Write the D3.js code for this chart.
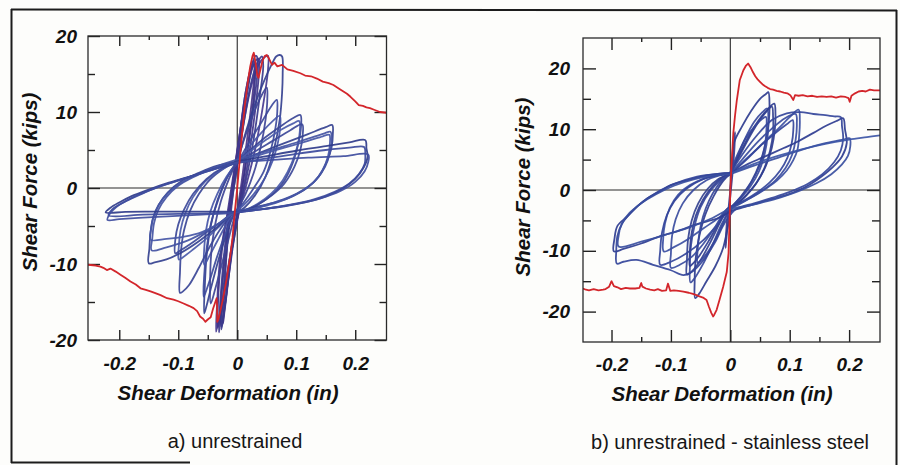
<!DOCTYPE html>
<html><head><meta charset="utf-8">
<script src="https://cdn.jsdelivr.net/npm/d3@7"></script>
<style>
html,body{margin:0;padding:0;background:#fdfdfb;}
svg{display:block;}
</style></head><body>
<svg id="chart" width="900" height="465"></svg>
<script>
// ---------------- DATA ----------------
const xTickMajor = [-0.2, -0.1, 0, 0.1, 0.2];
const xTickLabels = ["-0.2", "-0.1", "0", "0.1", "0.2"];
const xTickMinor = [-0.15, -0.05, 0.05, 0.15];
const yTickMajor = [-20, -10, 0, 10, 20];
const yTickLabels = ["-20", "-10", "0", "10", "20"];
const yTickMinorA = [-15, -5, 5, 15];
const yTickMinorB = [-15, -5, 5, 15];

const xTitle = "Shear Deformation (in)";
const yTitle = "Shear Force (kips)";
const captionA = "a) unrestrained";
const captionB = "b) unrestrained - stainless steel";

// panel a) monotonic (red)
const redA_pos = [[0,0],[0.004,3.5],[0.008,7],[0.013,11],[0.018,14],[0.022,16],[0.026,17.4],[0.028,17.8],[0.031,16.5],[0.034,14.8],[0.036,14.5],[0.039,15.5],[0.043,16.8],[0.047,17.4],[0.05,17.5],[0.054,17.0],[0.059,16.2],[0.063,16.5],[0.068,16.0],[0.076,16.2],[0.085,15.6],[0.095,15.4],[0.107,15.1],[0.115,14.8],[0.125,14.7],[0.135,14.4],[0.145,14.0],[0.155,13.8],[0.163,13.55],[0.172,13.1],[0.18,12.7],[0.186,12.4],[0.192,12.0],[0.2,11.4],[0.206,10.9],[0.213,10.8],[0.219,10.6],[0.225,10.5],[0.232,10.3],[0.242,10.0],[0.253,9.9]];
const redA_neg = [[0,0],[-0.004,-3],[-0.008,-6.5],[-0.012,-9],[-0.018,-12],[-0.024,-14.5],[-0.029,-16.3],[-0.032,-17.3],[-0.034,-17.6],[-0.034,-15.5],[-0.035,-14.5],[-0.038,-15.2],[-0.041,-15.9],[-0.045,-17.0],[-0.05,-17.3],[-0.054,-17.6],[-0.058,-17.2],[-0.063,-16.9],[-0.068,-16.2],[-0.074,-15.8],[-0.082,-15.5],[-0.091,-15.2],[-0.1,-14.9],[-0.108,-14.7],[-0.119,-14.5],[-0.13,-14.1],[-0.14,-13.8],[-0.147,-13.6],[-0.155,-13.4],[-0.164,-13.2],[-0.172,-12.7],[-0.181,-12.3],[-0.19,-11.8],[-0.198,-11.4],[-0.206,-11.0],[-0.215,-10.6],[-0.221,-10.8],[-0.227,-10.5],[-0.232,-10.35],[-0.24,-10.2],[-0.253,-10.1]];

// panel a) cyclic loops (blue)
const loopA1 = [[-0.012,-2],[-0.004,2.5],[0.006,8],[0.014,12.5],[0.022,15.5],[0.028,16.8],[0.029,15],[0.024,11],[0.016,6],[0.006,0],[-0.004,-5],[-0.012,-10],[-0.018,-14],[-0.022,-16.5],[-0.024,-17.8],[-0.023,-15.5],[-0.02,-11],[-0.016,-6],[-0.012,-2]];
const loopA2 = [[-0.014,-3],[-0.006,1.5],[0.004,7],[0.014,12.5],[0.024,16],[0.031,17.4],[0.034,17.2],[0.034,15],[0.028,11],[0.018,5],[0.006,-1],[-0.006,-6],[-0.016,-11],[-0.024,-15],[-0.029,-17.6],[-0.031,-19],[-0.03,-16.5],[-0.026,-12],[-0.02,-7],[-0.014,-3]];
const loopA3 = [[-0.01,-1.5],[0,3.5],[0.012,9],[0.024,13.5],[0.036,16.2],[0.046,17.2],[0.052,17.4],[0.052,15.5],[0.044,11],[0.03,5],[0.014,0],[0,-4],[-0.01,-8],[-0.02,-12.5],[-0.028,-16],[-0.034,-18.2],[-0.036,-18.9],[-0.034,-15],[-0.03,-10],[-0.022,-5.5],[-0.01,-1.5]];
const loopA4 = [[-0.008,-1],[0.002,4],[0.01,9],[0.018,13],[0.025,15.8],[0.03,16.3],[0.029,13],[0.022,8],[0.012,2],[0.002,-3],[-0.008,-8],[-0.016,-12.5],[-0.022,-16],[-0.027,-18.3],[-0.028,-16],[-0.022,-10],[-0.015,-5],[-0.008,-1]];
const loopA5 = [[0.001,3.5],[0.015,7.5],[0.03,11],[0.045,14],[0.058,16.2],[0.066,17.3],[0.072,17.5],[0.076,17.3],[0.077,15],[0.076,12.5],[0.072,9],[0.062,5],[0.048,1.5],[0.03,-1],[0.012,-2.6],[-0.004,-3.4],[-0.018,-6],[-0.032,-9.5],[-0.044,-13],[-0.052,-15.5],[-0.056,-16.5],[-0.055,-13],[-0.052,-9],[-0.045,-5],[-0.033,-1.5],[-0.018,1.3],[-0.005,3],[0.001,3.5]];
const loopA6 = [[0.001,3.4],[0.02,6],[0.04,8.5],[0.058,10.8],[0.067,11.6],[0.068,10.4],[0.065,8],[0.057,5],[0.045,2.2],[0.028,0],[0.01,-2],[-0.005,-3.3],[-0.02,-6],[-0.034,-9],[-0.046,-12],[-0.054,-13.8],[-0.057,-14.3],[-0.056,-11.5],[-0.052,-8],[-0.044,-4.5],[-0.032,-1.5],[-0.016,1.5],[0.001,3.4]];
const loopA7 = [[0.001,3.4],[0.02,5.4],[0.04,7.2],[0.06,8.8],[0.072,9.5],[0.073,8.2],[0.069,6],[0.06,3.6],[0.046,1.2],[0.028,-0.8],[0.01,-2.3],[-0.006,-3.2],[-0.02,-5],[-0.034,-7],[-0.047,-8.9],[-0.056,-10.1],[-0.056,-8],[-0.053,-5.6],[-0.046,-3.2],[-0.034,-0.8],[-0.018,1.5],[0.001,3.4]];
const loopA8 = [[0.001,3.6],[0.025,5.2],[0.05,6.8],[0.075,8.2],[0.095,9.2],[0.107,9.6],[0.108,8],[0.104,6],[0.095,3.5],[0.08,1],[0.06,-0.8],[0.035,-2.2],[0.012,-3],[-0.006,-3.3],[-0.025,-5],[-0.045,-7.5],[-0.065,-10.5],[-0.082,-12.8],[-0.092,-13.6],[-0.097,-13.8],[-0.097,-11],[-0.095,-8],[-0.09,-5.5],[-0.08,-3],[-0.065,-0.8],[-0.045,1.2],[-0.022,2.6],[0.001,3.6]];
const loopA9 = [[0.001,3.5],[0.025,5],[0.05,6.4],[0.075,7.7],[0.095,8.5],[0.105,8.8],[0.106,7.4],[0.102,5.5],[0.092,3.2],[0.077,1],[0.058,-0.7],[0.034,-2.1],[0.01,-3],[-0.007,-3.3],[-0.027,-4.8],[-0.05,-6.5],[-0.075,-8.1],[-0.092,-9.1],[-0.099,-9.4],[-0.099,-7.6],[-0.096,-5.5],[-0.088,-3.3],[-0.075,-1.2],[-0.055,0.8],[-0.03,2.3],[0.001,3.5]];
const loopA10 = [[0.001,3.3],[0.03,4.8],[0.06,6.2],[0.09,7.6],[0.11,8.4],[0.111,7],[0.107,5],[0.097,2.8],[0.08,0.6],[0.058,-1],[0.032,-2.3],[0.01,-3],[-0.008,-3.4],[-0.03,-4.6],[-0.055,-6],[-0.08,-7.4],[-0.098,-8.3],[-0.105,-8.6],[-0.105,-6.8],[-0.1,-4.8],[-0.09,-2.8],[-0.075,-0.8],[-0.052,1.2],[-0.026,2.6],[0.001,3.3]];
const loopA11 = [[0.001,3.5],[0.04,4.7],[0.08,5.9],[0.12,7.1],[0.15,8],[0.161,8.3],[0.162,7],[0.16,5.4],[0.152,3.5],[0.138,1.5],[0.118,0],[0.093,-1.1],[0.065,-1.9],[0.037,-2.4],[0.01,-3],[-0.008,-3.4],[-0.035,-5.2],[-0.065,-7],[-0.095,-8.5],[-0.12,-9.4],[-0.14,-9.8],[-0.15,-9.9],[-0.149,-8],[-0.147,-5.8],[-0.143,-4],[-0.133,-2.2],[-0.118,-0.6],[-0.095,0.9],[-0.065,2],[-0.035,2.9],[0.001,3.5]];
const loopA12 = [[0.001,3.4],[0.04,4.4],[0.08,5.3],[0.12,6.2],[0.145,6.8],[0.156,7.0],[0.157,5.8],[0.154,4.2],[0.145,2.4],[0.13,0.8],[0.11,-0.4],[0.085,-1.4],[0.055,-2.2],[0.025,-2.8],[-0.005,-3.3],[-0.03,-4.6],[-0.06,-5.8],[-0.09,-6.4],[-0.12,-6.7],[-0.147,-6.8],[-0.146,-5.4],[-0.142,-3.8],[-0.133,-2.2],[-0.118,-0.7],[-0.095,0.7],[-0.065,1.9],[-0.032,2.8],[0.001,3.4]];
const loopA13 = [[0.001,3.5],[0.05,4.2],[0.1,4.9],[0.15,5.5],[0.19,6],[0.217,6.3],[0.219,5.2],[0.221,4.1],[0.215,2.8],[0.2,1.2],[0.18,0],[0.15,-1.1],[0.115,-1.9],[0.08,-2.4],[0.04,-2.8],[0.005,-3.1],[-0.04,-3.1],[-0.09,-3.1],[-0.14,-3.1],[-0.19,-3.15],[-0.223,-3.2],[-0.215,-2.6],[-0.2,-1.9],[-0.18,-1.1],[-0.15,-0.2],[-0.116,0.7],[-0.085,1.4],[-0.055,2.1],[-0.025,2.8],[0.001,3.5]];
const loopA14 = [[0.001,3.4],[0.06,3.7],[0.12,4.0],[0.18,4.2],[0.222,4.4],[0.222,3.4],[0.216,2.2],[0.2,0.8],[0.175,-0.4],[0.14,-1.4],[0.1,-2.1],[0.06,-2.6],[0.02,-3],[-0.01,-3.3],[-0.06,-3.5],[-0.11,-3.7],[-0.16,-3.9],[-0.2,-4.1],[-0.22,-4.2],[-0.216,-3.4],[-0.205,-2.5],[-0.185,-1.6],[-0.16,-0.7],[-0.128,0.3],[-0.095,1.1],[-0.062,1.9],[-0.03,2.7],[0.001,3.4]];
const loopA15 = [[-0.016,-3],[-0.008,1],[0.002,6],[0.012,11],[0.022,14.8],[0.03,16.6],[0.036,17],[0.037,15.5],[0.033,12],[0.025,7],[0.014,1.5],[0.002,-3.5],[-0.01,-8.5],[-0.02,-13],[-0.028,-16.5],[-0.033,-18.4],[-0.033,-16],[-0.03,-11.5],[-0.024,-7],[-0.016,-3]];
const loopA16 = [[-0.006,0],[0.004,5],[0.014,10],[0.024,14],[0.034,16.5],[0.042,17.3],[0.044,16],[0.038,12],[0.028,6.5],[0.016,1.5],[0.004,-2.5],[-0.006,-6.5],[-0.014,-11],[-0.02,-15],[-0.025,-17.8],[-0.027,-18.6],[-0.024,-14],[-0.018,-8.5],[-0.012,-4],[-0.006,0]];
const loopA17 = [[0.0,3.6],[0.012,6.5],[0.026,9.5],[0.04,12],[0.05,13.2],[0.051,11.8],[0.048,9],[0.04,5.5],[0.028,2],[0.014,-0.8],[-0.002,-3.2],[-0.014,-6.5],[-0.026,-10],[-0.037,-13.2],[-0.045,-15.2],[-0.046,-12.5],[-0.044,-8.5],[-0.038,-5],[-0.028,-1.8],[-0.014,1.2],[0.0,3.6]];
const loopA18 = [[-0.002,3.7],[0.04,4.6],[0.08,5.5],[0.12,6.5],[0.148,7.2],[0.158,7.4],[0.16,6.2],[0.157,4.6],[0.149,2.8],[0.134,1.1],[0.113,-0.2],[0.088,-1.2],[0.058,-2],[0.028,-2.7],[-0.004,-3.1],[-0.03,-4.6],[-0.06,-6],[-0.09,-7.1],[-0.12,-7.8],[-0.145,-8.2],[-0.144,-6.6],[-0.141,-4.6],[-0.134,-2.9],[-0.12,-1.2],[-0.1,0.3],[-0.07,1.6],[-0.036,2.8],[-0.002,3.7]];
const loopA19 = [[0.002,3.3],[0.05,3.9],[0.1,4.5],[0.15,5.0],[0.19,5.3],[0.215,5.4],[0.217,4.4],[0.216,3.2],[0.206,1.8],[0.19,0.6],[0.165,-0.5],[0.13,-1.5],[0.09,-2.2],[0.05,-2.7],[0.01,-3.1],[-0.04,-3.3],[-0.1,-3.4],[-0.16,-3.5],[-0.218,-3.6],[-0.212,-2.8],[-0.198,-2.1],[-0.176,-1.2],[-0.148,-0.3],[-0.115,0.6],[-0.08,1.5],[-0.045,2.4],[-0.015,3.0],[0.002,3.3]];
const loopsA = [loopA1, loopA2, loopA3, loopA4, loopA15, loopA16, loopA5, loopA6, loopA7, loopA17, loopA8, loopA9, loopA10, loopA11, loopA18, loopA12, loopA13, loopA19, loopA14];

// panel b) monotonic (red)
const redB_pos = [[0,0],[0.002,4],[0.005,9.3],[0.008,12.3],[0.011,14.8],[0.016,18.1],[0.022,19.7],[0.026,20.4],[0.03,20.8],[0.034,20.2],[0.038,19.4],[0.042,18.7],[0.046,18.2],[0.05,17.8],[0.054,17.4],[0.058,17.1],[0.063,16.8],[0.067,16.6],[0.072,16.5],[0.078,16.3],[0.084,16.2],[0.09,16.0],[0.096,15.9],[0.101,15.6],[0.106,14.8],[0.109,15.6],[0.115,15.5],[0.122,15.6],[0.13,15.4],[0.138,15.5],[0.146,15.3],[0.154,15.4],[0.162,15.3],[0.17,15.4],[0.178,15.2],[0.186,15.4],[0.194,15.3],[0.199,15.1],[0.201,14.5],[0.204,15.5],[0.21,15.9],[0.216,16.2],[0.222,16.3],[0.228,16.2],[0.235,16.5],[0.242,16.4],[0.252,16.4]];
const redB_neg = [[0,0],[-0.001,-4],[-0.003,-10.4],[-0.006,-13.5],[-0.012,-15.9],[-0.018,-18],[-0.023,-19.7],[-0.027,-20.5],[-0.029,-20.8],[-0.032,-20.2],[-0.036,-19.2],[-0.04,-18.1],[-0.046,-17.7],[-0.052,-17.5],[-0.057,-17.3],[-0.063,-17.1],[-0.07,-16.9],[-0.079,-16.7],[-0.087,-16.6],[-0.095,-16.5],[-0.101,-16.6],[-0.105,-15.4],[-0.108,-16.5],[-0.115,-16.6],[-0.122,-16.3],[-0.128,-16.5],[-0.135,-16.4],[-0.142,-16.2],[-0.148,-15.9],[-0.15,-15.3],[-0.153,-16.1],[-0.16,-16.2],[-0.169,-16.2],[-0.176,-16.1],[-0.184,-16.3],[-0.19,-16.0],[-0.196,-15.8],[-0.2,-15.0],[-0.204,-15.9],[-0.21,-16.3],[-0.214,-16.4],[-0.222,-16.5],[-0.23,-16.3],[-0.238,-16.5],[-0.243,-16.4],[-0.248,-16.2]];

// panel b) cyclic loops (blue)
const loopB1 = [[-0.003,-3],[0.001,1],[0.004,5],[0.007,8.5],[0.008,9.5],[0.007,7],[0.004,3],[0,-1],[-0.004,-5],[-0.007,-8.5],[-0.008,-9.5],[-0.007,-7],[-0.005,-4.5],[-0.003,-3]];
const loopB2 = [[0,0],[0.003,4],[0.006,7.7],[0.02,10.5],[0.035,13],[0.05,15],[0.06,15.8],[0.064,16.1],[0.066,14],[0.065,11.5],[0.06,8],[0.05,4.5],[0.036,1.5],[0.02,-0.8],[0.004,-2.8],[-0.004,-6],[-0.012,-9.5],[-0.025,-12.5],[-0.04,-15],[-0.052,-17],[-0.059,-17.8],[-0.06,-15],[-0.058,-11],[-0.052,-7.5],[-0.042,-4],[-0.028,-1],[-0.012,1.5],[0,2.7]];
const loopB3 = [[0,2.7],[0.015,5.5],[0.03,8.3],[0.045,10.8],[0.06,12.8],[0.07,13.7],[0.072,12],[0.072,9.5],[0.067,6.5],[0.057,3.5],[0.043,1],[0.026,-1],[0.01,-2.4],[-0.004,-3],[-0.018,-5.5],[-0.033,-8.5],[-0.05,-11.5],[-0.064,-13.3],[-0.073,-13.9],[-0.073,-11.5],[-0.071,-8],[-0.065,-5],[-0.054,-2.2],[-0.038,0.2],[-0.02,1.8],[0,2.7]];
const loopB4 = [[0,2.5],[0.012,5.5],[0.025,8.5],[0.04,11.2],[0.054,12.8],[0.062,13.4],[0.064,11.5],[0.063,9],[0.058,6],[0.048,3],[0.034,0.6],[0.018,-1.3],[0.002,-2.8],[-0.014,-5.5],[-0.03,-9],[-0.046,-12.2],[-0.06,-14.5],[-0.067,-15.2],[-0.068,-12.5],[-0.066,-9],[-0.06,-5.8],[-0.05,-2.8],[-0.034,-0.2],[-0.016,1.6],[0,2.5]];
const loopB5 = [[0,2.8],[0.016,6],[0.032,9],[0.048,11.5],[0.064,13.4],[0.074,14.2],[0.076,12.5],[0.075,10],[0.07,7],[0.06,4],[0.045,1.3],[0.028,-0.7],[0.01,-2.3],[-0.006,-3.2],[-0.02,-5.5],[-0.036,-8.3],[-0.052,-10.8],[-0.063,-12.1],[-0.068,-12.5],[-0.068,-10],[-0.065,-7],[-0.058,-4.2],[-0.046,-1.6],[-0.03,0.6],[-0.014,2],[0,2.8]];
const loopB6 = [[0,2.7],[0.02,4.5],[0.04,6.3],[0.06,8.2],[0.08,10],[0.1,12],[0.115,13.2],[0.117,11.5],[0.116,9],[0.113,6.6],[0.106,4.9],[0.095,3.2],[0.078,1.5],[0.061,0.3],[0.04,-1],[0.02,-2],[0,-3],[-0.02,-4.6],[-0.045,-6.3],[-0.07,-8],[-0.095,-9.4],[-0.112,-10.1],[-0.113,-8],[-0.11,-5.5],[-0.102,-3],[-0.088,-0.8],[-0.068,0.8],[-0.04,2],[-0.018,2.5],[0,2.7]];
const loopB7 = [[0,2.6],[0.025,4.8],[0.05,7.2],[0.075,9.3],[0.095,10.8],[0.105,11.5],[0.106,9.8],[0.103,7.5],[0.096,5.3],[0.084,3.2],[0.066,1.2],[0.045,-0.4],[0.022,-1.8],[0,-3],[-0.02,-5.5],[-0.045,-8.2],[-0.075,-10.5],[-0.1,-11.8],[-0.118,-12.3],[-0.118,-10],[-0.115,-7],[-0.107,-4.2],[-0.094,-1.8],[-0.074,0.2],[-0.048,1.7],[-0.022,2.4],[0,2.6]];
const loopB8 = [[0,2.7],[0.03,4.3],[0.056,5.4],[0.09,6.9],[0.112,7.9],[0.14,9.4],[0.162,10.6],[0.18,11.4],[0.19,11.8],[0.193,10],[0.196,7.7],[0.188,5.5],[0.173,3.8],[0.145,1.6],[0.123,0.3],[0.095,-0.8],[0.07,-1.5],[0.045,-2.2],[0.02,-2.9],[0.003,-3.4],[-0.02,-4.6],[-0.056,-5.6],[-0.09,-6.8],[-0.118,-7.6],[-0.15,-8.8],[-0.18,-9.7],[-0.196,-10.1],[-0.195,-8],[-0.19,-5.9],[-0.174,-4.4],[-0.157,-2.7],[-0.14,-1.4],[-0.118,-0.2],[-0.1,0.8],[-0.073,1.6],[-0.045,2.3],[-0.017,2.7],[0,2.8]];
const loopB9 = [[0,2.8],[0.02,5.8],[0.045,9],[0.07,11.5],[0.095,12.6],[0.118,12.8],[0.14,12.5],[0.16,12.3],[0.175,12.1],[0.186,12.0],[0.188,10.5],[0.19,8.5],[0.186,6.5],[0.175,4.6],[0.155,2.6],[0.13,1.0],[0.1,-0.3],[0.07,-1.3],[0.04,-2.2],[0.01,-3.1],[-0.01,-5.5],[-0.025,-8.5],[-0.045,-11.5],[-0.065,-13.5],[-0.079,-14.0],[-0.1,-13.2],[-0.13,-12.3],[-0.158,-11.5],[-0.18,-11.8],[-0.191,-12.1],[-0.192,-10],[-0.19,-7.5],[-0.182,-5.5],[-0.168,-3.8],[-0.14,-1.4],[-0.1,0.8],[-0.056,2.2],[-0.017,2.7],[0,2.8]];
const loopB10 = [[0,2.6],[0.04,4],[0.08,5.3],[0.12,6.6],[0.16,7.7],[0.19,8.3],[0.201,8.5],[0.202,7.2],[0.198,5.6],[0.188,4.2],[0.17,2.6],[0.145,1.1],[0.115,-0.2],[0.085,-1.2],[0.055,-2],[0.025,-2.7],[0,-3.1],[-0.03,-4.6],[-0.07,-6.2],[-0.11,-7.4],[-0.15,-8.5],[-0.188,-9.3],[-0.188,-7.5],[-0.183,-5.6],[-0.17,-3.8],[-0.15,-2.2],[-0.125,-0.7],[-0.095,0.7],[-0.06,1.8],[-0.025,2.4],[0,2.6]];
const loopB11 = [[0,2.7],[0.04,4.3],[0.08,5.6],[0.12,6.7],[0.16,7.6],[0.2,8.3],[0.23,8.7],[0.252,9.0]];
const loopB12 = [[0,2.7],[0.02,5],[0.045,7.8],[0.07,10.1],[0.092,11.8],[0.11,12.5],[0.112,10.8],[0.11,8.3],[0.104,5.8],[0.093,3.6],[0.076,1.6],[0.055,0],[0.032,-1.4],[0.01,-2.6],[-0.008,-3.4],[-0.025,-6],[-0.045,-8.8],[-0.065,-11],[-0.085,-12.3],[-0.1,-12.8],[-0.1,-10.5],[-0.098,-7.5],[-0.092,-4.8],[-0.08,-2.2],[-0.062,0],[-0.04,1.6],[-0.018,2.4],[0,2.7]];
const loopB13 = [[0,2.9],[0.012,5.8],[0.026,8.5],[0.042,10.6],[0.054,11.7],[0.06,12],[0.061,10.3],[0.059,7.8],[0.053,5],[0.043,2.6],[0.03,0.4],[0.015,-1.5],[0.0,-3],[-0.012,-5.5],[-0.026,-8.3],[-0.04,-10.5],[-0.05,-11.6],[-0.055,-12],[-0.055,-9.8],[-0.052,-7],[-0.046,-4.4],[-0.036,-1.8],[-0.022,0.6],[-0.01,2],[0,2.9]];
const loopsB = [loopB1, loopB2, loopB3, loopB4, loopB5, loopB13, loopB6, loopB7, loopB12, loopB8, loopB9, loopB10, loopB11];

// ---------------- STYLES ----------------
const colorsA = ["#4a3588","#3e3a8e","#453890","#3b3386","#41358a","#3a3a8c","#34408f","#3d4a9c","#4656a8","#3e4496","#3a4596","#4a5aa9","#3c4898","#34418f","#4352a2","#4757a6","#2f3b8a","#3c4a9c","#3f4d9e"];
const colorsB = ["#3a3a8a","#2e3c8e","#33418f","#3a4a9c","#2f3d90","#36469a","#3b4fa2","#33449a","#3a4c9e","#2e3c90","#34459a","#3a4fa0","#3c55a6"];
const RED = "#d3262b";
const FONT = "'Liberation Sans', Arial, Helvetica, sans-serif";

const svg = d3.select('#chart');
svg.append('rect').attr('width',900).attr('height',465).attr('fill','#fdfdfb');

// outer frame
const frame = svg.append('g').attr('stroke','#1c1c1c').attr('stroke-width',2).attr('fill','none');
frame.append('line').attr('x1',11).attr('y1',9.5).attr('x2',897).attr('y2',10.5);
frame.append('line').attr('x1',11.5).attr('y1',9).attr('x2',11.5).attr('y2',463);
frame.append('line').attr('x1',11).attr('y1',462.5).attr('x2',190).attr('y2',462.5);
frame.append('line').attr('x1',896.5).attr('y1',10).attr('x2',896.5).attr('y2',465);

function drawPanel(p) {
  const x = d3.scaleLinear().domain(p.xDomain).range([p.left, p.right]);
  const y = d3.scaleLinear().domain(p.yDomain).range([p.bottom, p.top]);
  const g = svg.append('g');
  const clipId = 'clip' + p.id;
  svg.append('clipPath').attr('id', clipId).append('rect')
    .attr('x', p.left).attr('y', p.top).attr('width', p.right - p.left).attr('height', p.bottom - p.top);

  // zero lines
  g.append('line').attr('x1', x(0)).attr('x2', x(0)).attr('y1', p.top).attr('y2', p.bottom)
    .attr('stroke', '#2a2a2a').attr('stroke-width', 1.1);
  g.append('line').attr('x1', p.left).attr('x2', p.right).attr('y1', y(0)).attr('y2', y(0))
    .attr('stroke', '#2a2a2a').attr('stroke-width', 1.1);

  const styleAxis = sel => {
    sel.select('.domain').remove();
    sel.selectAll('line').attr('stroke', '#222').attr('stroke-width', 1.4);
    sel.selectAll('text').attr('font-family', FONT).attr('font-weight', 'bold')
      .attr('font-style', 'italic').attr('font-size', 19).attr('fill', '#111');
  };
  const xMajNoZero = xTickMajor.filter(d => d !== 0);
  // bottom
  g.append('g').attr('transform', `translate(0,${p.bottom})`)
    .call(d3.axisBottom(x).tickValues(xTickMajor).tickFormat((d, i) => xTickLabels[i])
      .tickSizeInner(-p.xMajLen).tickSizeOuter(0).tickPadding(p.xPad)).call(styleAxis);
  g.append('g').attr('transform', `translate(0,${p.bottom})`)
    .call(d3.axisBottom(x).tickValues(xTickMinor).tickFormat('').tickSizeInner(-p.xMinLen).tickSizeOuter(0)).call(styleAxis);
  // top
  g.append('g').attr('transform', `translate(0,${p.top})`)
    .call(d3.axisTop(x).tickValues(xMajNoZero).tickFormat('').tickSizeInner(-p.xMajLen).tickSizeOuter(0)).call(styleAxis);
  g.append('g').attr('transform', `translate(0,${p.top})`)
    .call(d3.axisTop(x).tickValues(xTickMinor).tickFormat('').tickSizeInner(-p.xMinLen + 1).tickSizeOuter(0)).call(styleAxis);
  // left
  g.append('g').attr('transform', `translate(${p.left},0)`)
    .call(d3.axisLeft(y).tickValues(yTickMajor).tickFormat((d, i) => yTickLabels[i])
      .tickSizeInner(-p.yMajLen).tickSizeOuter(0).tickPadding(p.yPad)).call(styleAxis);
  g.append('g').attr('transform', `translate(${p.left},0)`)
    .call(d3.axisLeft(y).tickValues(p.yMinor).tickFormat('').tickSizeInner(-p.yMinLen).tickSizeOuter(0)).call(styleAxis);
  // right
  g.append('g').attr('transform', `translate(${p.right},0)`)
    .call(d3.axisRight(y).tickValues(yTickMajor).tickFormat('').tickSizeInner(-p.yMajLen).tickSizeOuter(0)).call(styleAxis);
  g.append('g').attr('transform', `translate(${p.right},0)`)
    .call(d3.axisRight(y).tickValues(p.yMinor).tickFormat('').tickSizeInner(-p.yMinLen).tickSizeOuter(0)).call(styleAxis);

  // data
  const line = d3.line().x(d => x(d[0])).y(d => y(d[1])).curve(d3.curveCatmullRom.alpha(0.5));
  const lineLin = d3.line().x(d => x(d[0])).y(d => y(d[1]));
  const dg = g.append('g').attr('clip-path', `url(#${clipId})`);
  p.loops.forEach((lp, i) => {
    dg.append('path').attr('d', line(lp)).attr('fill', 'none')
      .attr('stroke', p.colors[i % p.colors.length]).attr('stroke-width', 1.8)
      .attr('stroke-linejoin', 'round').attr('stroke-opacity', 0.92);
  });
  p.reds.forEach(r => {
    dg.append('path').attr('d', lineLin(r)).attr('fill', 'none')
      .attr('stroke', RED).attr('stroke-width', 1.8).attr('stroke-linejoin', 'round');
  });

  // frame box
  g.append('rect').attr('x', p.left).attr('y', p.top).attr('width', p.right - p.left).attr('height', p.bottom - p.top)
    .attr('fill', 'none').attr('stroke', '#2a2a2a').attr('stroke-width', 1.3);

  // titles
  g.append('text').attr('x', p.xTitleX).attr('y', p.xTitleY).attr('text-anchor', 'middle')
    .attr('font-family', FONT).attr('font-weight', 'bold').attr('font-style', 'italic')
    .attr('font-size', 20.5).attr('fill', '#111').text(xTitle);
  g.append('text').attr('transform', `translate(${p.yTitleX},${p.yTitleY}) rotate(-90)`).attr('text-anchor', 'middle')
    .attr('font-family', FONT).attr('font-weight', 'bold').attr('font-style', 'italic')
    .attr('font-size', 20.5).attr('fill', '#111').text(yTitle);
  g.append('text').attr('x', p.capX).attr('y', p.capY).attr('text-anchor', 'middle')
    .attr('font-family', FONT).attr('font-size', 20).attr('fill', '#161616').text(p.caption);
}

drawPanel({
  id: 'A', left: 88, right: 386.5, top: 36, bottom: 340,
  xDomain: [-0.253, 0.253], yDomain: [-20, 20],
  yMinor: yTickMinorA,
  xMajLen: 10, xMinLen: 5, yMajLen: 12, yMinLen: 7, xPad: 17, yPad: 11,
  loops: loopsA, colors: colorsA, reds: [redA_pos, redA_neg],
  xTitleX: 228, xTitleY: 400, yTitleX: 37, yTitleY: 182,
  capX: 235, capY: 448, caption: captionA
});
drawPanel({
  id: 'B', left: 583, right: 880, top: 38, bottom: 342,
  xDomain: [-0.248, 0.252], yDomain: [-25, 25],
  yMinor: yTickMinorB,
  xMajLen: 12, xMinLen: 5, yMajLen: 13, yMinLen: 8, xPad: 16, yPad: 13,
  loops: loopsB, colors: colorsB, reds: [redB_pos, redB_neg],
  xTitleX: 722, xTitleY: 401, yTitleX: 530, yTitleY: 187,
  capX: 730, capY: 449, caption: captionB
});
</script>
</body></html>
